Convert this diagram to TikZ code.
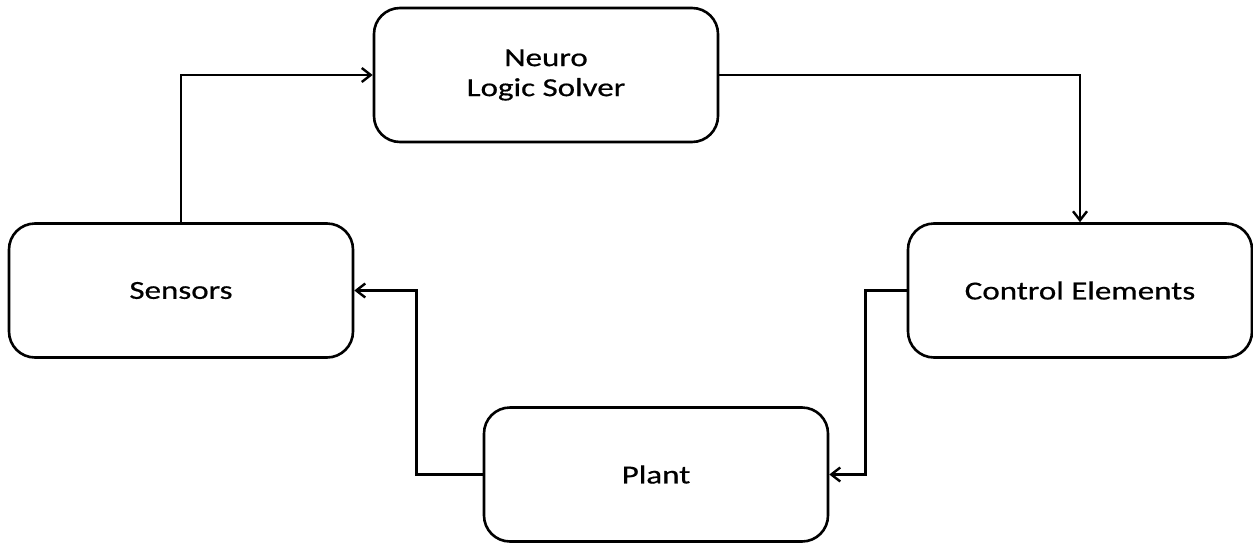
\documentclass[tikz,border=0pt]{standalone}
\usepackage{fontspec}
\setmainfont{Carlito}
\newfontfamily\lblfont[FakeBold=0.5]{Carlito}
\usetikzlibrary{arrows.meta}
\newcommand{\wide}[1]{\scalebox{1.27}[1]{#1}}
\begin{document}
\begin{tikzpicture}[x=1pt,y=-1pt,
  blk/.style={draw=black,line width=2.6pt,rounded corners=26pt,minimum width=344pt,minimum height=134pt,align=center,font=\lblfont\fontsize{26}{30}\selectfont,inner sep=0pt},
  conn/.style={draw=black,line width=2.6pt,-{Straight Barb[length=9pt,width=14pt,line width=2.4pt]}}]
\useasboundingbox (0,0) rectangle (1253,544);
\node[blk] (N) at (546,75) {\wide{Neuro}\\\wide{Logic Solver}};
\node[blk] (S) at (181,290.5) {\wide{Sensors}};
\node[blk] (C) at (1080,290.5) {\wide{Control Elements}};
\node[blk] (P) at (656,474.5) {\wide{Plant}};
\draw[conn] (S.north) |- (N.west);
\draw[conn] (N.east) -| (C.north);
\draw[conn] (C.west) -- ++(-41,0) |- (P.east);
\draw[conn] (P.west) -- ++(-66,0) |- (S.east);
\end{tikzpicture}
\end{document}
